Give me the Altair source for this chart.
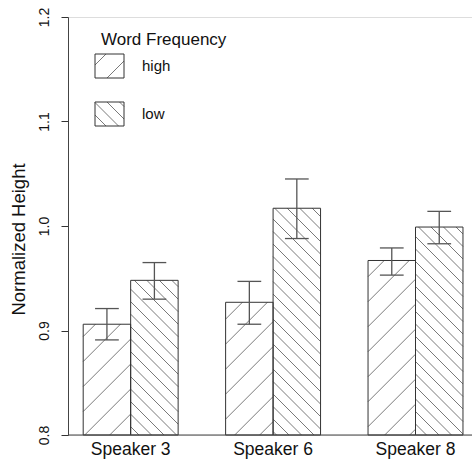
import math
import altair as alt
import pandas as pd

# ---- data ----
speakers = ["Speaker 3", "Speaker 6", "Speaker 8"]
freqs = ["high", "low"]
mean_high = [0.906, 0.927, 0.967]
mean_low = [0.948, 1.017, 0.999]
lo_high = [0.891, 0.906, 0.953]
hi_high = [0.921, 0.947, 0.979]
lo_low = [0.930, 0.988, 0.983]
hi_low = [0.965, 1.045, 1.014]
y_ticks = [0.8, 0.9, 1.0, 1.1, 1.2]
legend_title = "Word Frequency"
y_title = "Normalized Height"

# ---- geometry of the plot area ----
W, H = 404, 418
XMIN, XMAX = 0.68, 9.19
YMIN, YMAX = 0.8, 1.2


def x2px(v):
    return (v - XMIN) / (XMAX - XMIN) * W


def px2x(p):
    return XMIN + p / W * (XMAX - XMIN)


def y2px(v):
    return (YMAX - v) / (YMAX - YMIN) * H


def px2y(p):
    return YMAX - p / H * (YMAX - YMIN)


HATCH = {"high": ("/", 25.0, 9.7), "low": ("\\", 12.5, 3.0)}


def hatch(x0, x1, yt, yb, kind, step, off):
    segs = []
    if kind == "/":  # x + y = c
        cmin, cmax = x0 + yt, x1 + yb
        c = off + math.ceil((cmin - off) / step) * step
        while c <= cmax:
            xa = max(x0, c - yb)
            xb = min(x1, c - yt)
            if xb - xa > 0.3:
                segs.append((xa, c - xa, xb, c - xb))
            c += step
    else:  # x - y = c
        cmin, cmax = x0 - yb, x1 - yt
        c = off + math.ceil((cmin - off) / step) * step
        while c <= cmax:
            xa = max(x0, yt + c)
            xb = min(x1, yb + c)
            if xb - xa > 0.3:
                segs.append((xa, xa - c, xb, xb - c))
            c += step
    return segs


means = {"high": mean_high, "low": mean_low}
los = {"high": lo_high, "low": lo_low}
his = {"high": hi_high, "low": hi_low}

bar_rows, hatch_rows, cap_rows = [], [], []
for g, sp in enumerate(speakers):
    for j, f in enumerate(freqs):
        left = 1 + g * 3 + j
        right = left + 1
        m = means[f][g]
        bar_rows.append(dict(speaker=sp, freq=f, left=left, right=right,
                             mean=m, base=YMIN, center=left + 0.5,
                             lo=los[f][g], hi=his[f][g]))
        kind, step, off = HATCH[f]
        for (xa, ya, xb, yb) in hatch(x2px(left), x2px(right), y2px(m), y2px(YMIN), kind, step, off):
            hatch_rows.append(dict(x=px2x(xa), y=px2y(ya), x2=px2x(xb), y2=px2y(yb)))
        for v in (los[f][g], his[f][g]):
            cap_rows.append(dict(xa=left + 0.25, xb=left + 0.75, y=v))

bars = pd.DataFrame(bar_rows)
hatches = pd.DataFrame(hatch_rows)
caps = pd.DataFrame(cap_rows)

xs = alt.Scale(domain=[XMIN, XMAX], nice=False, zero=False)
ys = alt.Scale(domain=[YMIN, YMAX], nice=False, zero=False)

YAXIS = alt.Axis(values=y_ticks, format=".1f", title=y_title,
                 labelAngle=270, labelAlign="center", labelBaseline="alphabetic",
                 labelPadding=13, tickSize=7, ticks=True, grid=False,
                 domainColor="#444444", tickColor="#333333", tickWidth=1,
                 labelColor="#111111", labelFontSize=14,
                 titleFontSize=18.5, titleFontWeight="normal", titleColor="#111111",
                 titleAngle=270, titleX=-44, titleY=222, titleAlign="center",
                 titleBaseline="alphabetic")


def Y(field):
    return alt.Y(field, scale=ys, axis=YAXIS, title=y_title)


def X(field):
    return alt.X(field, scale=xs, axis=None)


STROKE = "#333333"
HCOL = "#6a6a6a"

bar_hatch = alt.Chart(hatches).mark_rule(color=HCOL, strokeWidth=0.9).encode(
    x=X("x:Q"), x2="x2:Q", y=Y("y:Q"), y2="y2:Q",
)

bar_outline = alt.Chart(bars).mark_rect(fillOpacity=0, stroke=STROKE, strokeWidth=1).encode(
    x=X("left:Q"), x2="right:Q", y=Y("mean:Q"), y2="base:Q",
)

err_col = "#555555"
err_stem = alt.Chart(bars).mark_rule(color=err_col, strokeWidth=1.3).encode(
    x=X("center:Q"), y=Y("lo:Q"), y2="hi:Q",
)
err_caps = alt.Chart(caps).mark_rule(color=err_col, strokeWidth=1.3).encode(
    x=X("xa:Q"), x2="xb:Q", y=Y("y:Q"),
)

baseline = alt.Chart(pd.DataFrame({"y": [YMIN]})).mark_rule(color="#444444", strokeWidth=1).encode(
    y=Y("y:Q"), x=alt.value(0), x2=alt.value(W),
)

grp = pd.DataFrame({"speaker": speakers,
                    "c": [2 + 3 * g for g in range(len(speakers))]})
xlabels = alt.Chart(grp).mark_text(fontSize=17.5, baseline="alphabetic", align="center",
                                   color="#111111").encode(
    x=X("c:Q"), y=alt.value(H + 20), text="speaker:N",
)

# ---- legend (drawn inside the plot, like R's legend()) ----
leg_boxes_px = {"high": (27, 56, 37, 61), "low": (27, 56, 85, 109)}
leg_rows, leg_hatch = [], []
for f in freqs:
    x0, x1, yt, yb = leg_boxes_px[f]
    leg_rows.append(dict(freq=f, x=px2x(x0), x2=px2x(x1), y=px2y(yt), y2=px2y(yb),
                         tx=px2x(74), ty=px2y((yt + yb) / 2)))
    kind, step, off = HATCH[f]
    for (xa, ya, xb, yb2) in hatch(x0, x1, yt, yb, kind, step, 0.0 if f == "high" else 4.0):
        leg_hatch.append(dict(x=px2x(xa), y=px2y(ya), x2=px2x(xb), y2=px2y(yb2)))
leg = pd.DataFrame(leg_rows)
legh = pd.DataFrame(leg_hatch)

leg_h = alt.Chart(legh).mark_rule(color=HCOL, strokeWidth=0.9).encode(
    x=X("x:Q"), x2="x2:Q", y=Y("y:Q"), y2="y2:Q",
)
leg_box = alt.Chart(leg).mark_rect(fillOpacity=0, stroke=STROKE, strokeWidth=1).encode(
    x=X("x:Q"), x2="x2:Q", y=Y("y:Q"), y2="y2:Q",
)
leg_lab = alt.Chart(leg).mark_text(fontSize=15, align="left", baseline="middle",
                                   color="#111111").encode(
    x=X("tx:Q"), y=Y("ty:Q"), text="freq:N",
)
leg_title = alt.Chart(pd.DataFrame({"t": [legend_title]})).mark_text(
    fontSize=17, align="left", baseline="alphabetic", color="#111111").encode(
    x=alt.value(33), y=alt.value(28), text="t:N")

chart = alt.layer(
    bar_hatch, bar_outline, baseline, err_stem, err_caps, xlabels,
    leg_h, leg_box, leg_lab, leg_title,
).properties(
    width=W, height=H,
    autosize=alt.AutoSizeParams(type="none"),
    padding={"left": 68, "top": 17, "right": 0, "bottom": 25},
).configure_view(stroke=None).configure(font="Liberation Sans")

chart.save("out.html", embed_options={"renderer": "svg", "actions": False})
